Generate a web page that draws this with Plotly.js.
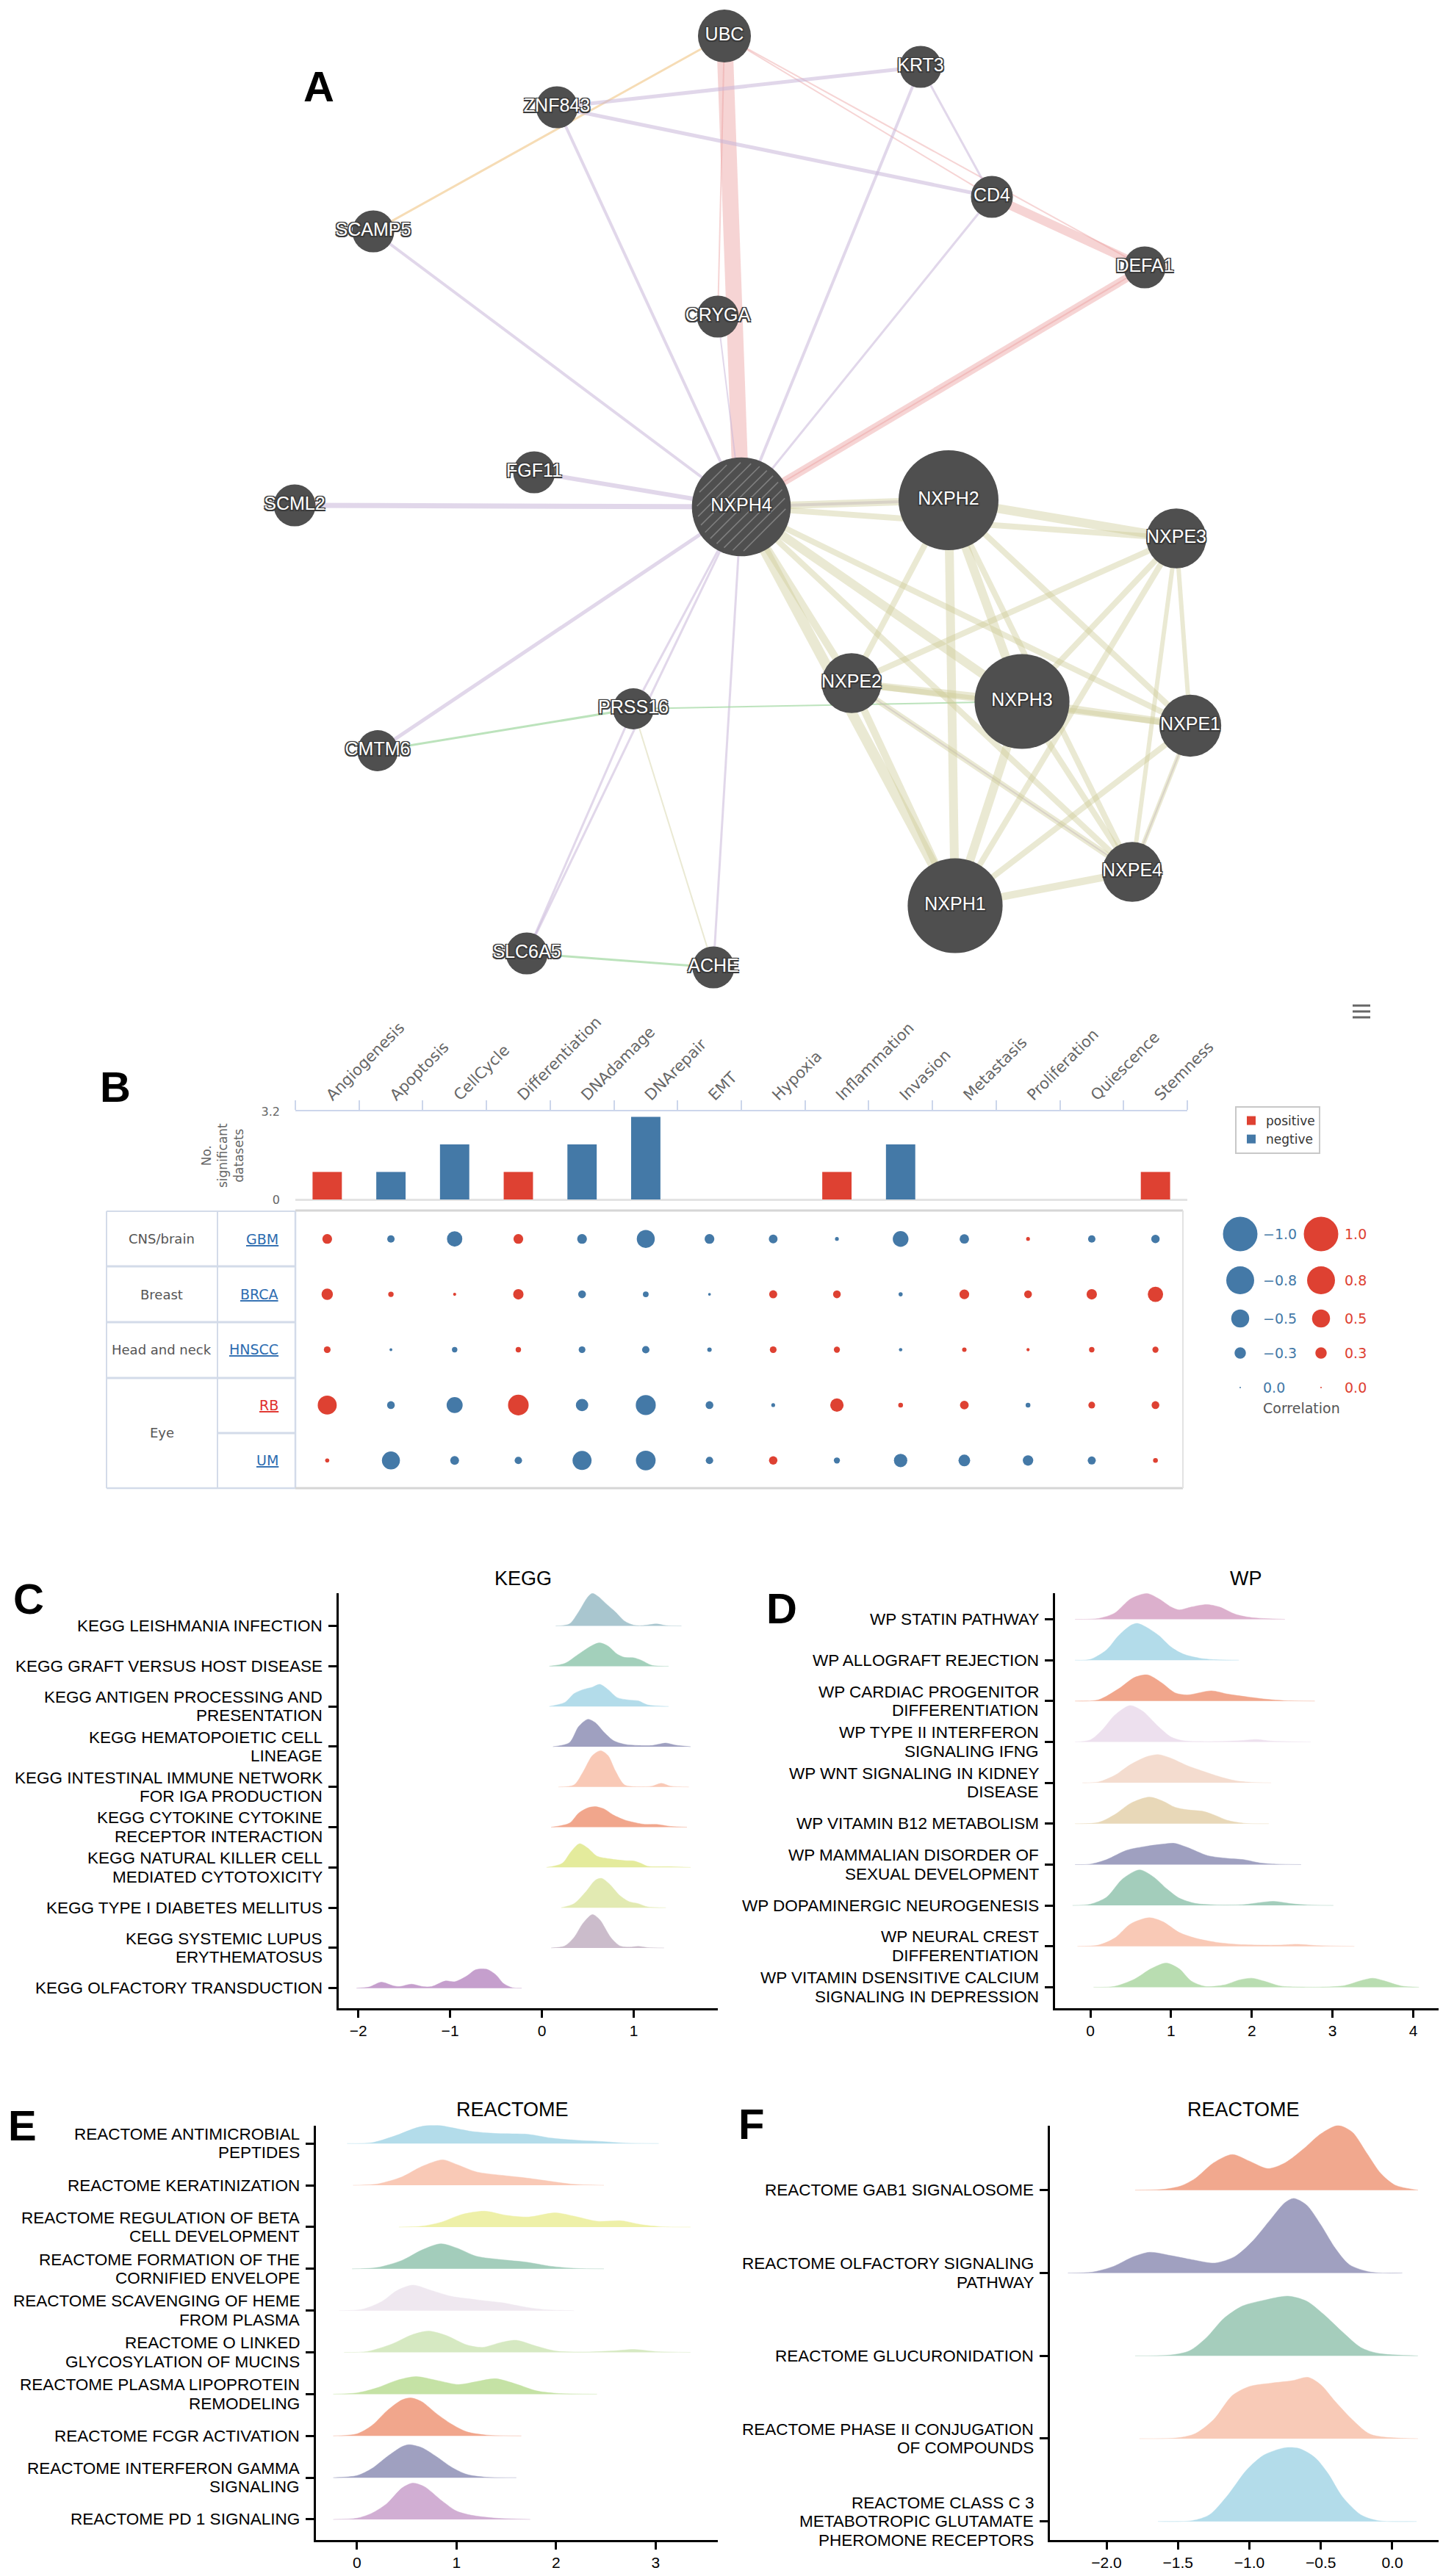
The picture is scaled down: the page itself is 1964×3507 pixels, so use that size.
<!DOCTYPE html>
<html>
<head>
<meta charset="utf-8">
<script src="https://cdn.plot.ly/plotly-3.0.1.min.js"></script>
<style>html,body{margin:0;padding:0;background:#fff}#chart{width:1964px;height:3507px}</style>
</head>
<body>
<div id="chart"></div>
<script>
// ================= DATA =================
// ---- Panel A: gene network ----
const nodeNames = ['UBC','KRT3','ZNF843','CD4','SCAMP5','DEFA1','CRYGA','FGF11','SCML2','NXPH4','NXPH2','NXPE3','NXPE2','NXPH3','NXPE1','PRSS16','CMTM6','NXPE4','NXPH1','SLC6A5','ACHE'];
const nodeX = [986,1253,758,1350,508,1558,977,727,401,1009,1291,1601,1159,1391,1620,862,514,1541,1300,717,971];
const nodeY = [49,91,146,268,315,364,431,643,688,690,681,733,930,955,988,965,1022,1187,1233,1298,1317];
const nodeScore = [0.53,0.42,0.42,0.42,0.42,0.42,0.42,0.42,0.42,0.99,1.0,0.6,0.6,0.95,0.62,0.41,0.41,0.6,0.95,0.42,0.42];
const queryGene = 'NXPH4';
const edgeFrom = ['UBC','UBC','UBC','UBC','UBC','ZNF843','ZNF843','ZNF843','KRT3','KRT3','CD4','CD4','DEFA1','DEFA1','SCAMP5','CRYGA','FGF11','SCML2','NXPH4','NXPH4','NXPH4','NXPH4','NXPH4','PRSS16','PRSS16','CMTM6','PRSS16','SLC6A5','NXPE2','NXPE1',
  'NXPH4','NXPH4','NXPH4','NXPH4','NXPH4','NXPH4','NXPH4','NXPH2','NXPH2','NXPH2','NXPH2','NXPH2','NXPH2','NXPE3','NXPE3','NXPE3','NXPE3','NXPE3','NXPE2','NXPE2','NXPE2','NXPE2','NXPH3','NXPH3','NXPH3','NXPE1','NXPE1','NXPE4'];
const edgeTo = ['NXPH4','CRYGA','CD4','DEFA1','SCAMP5','KRT3','CD4','NXPH4','NXPH4','CD4','DEFA1','NXPH4','NXPH4','NXPH4','NXPH4','NXPH4','NXPH4','NXPH4','NXPH2','CMTM6','PRSS16','SLC6A5','ACHE','SLC6A5','ACHE','PRSS16','NXPH3','ACHE','NXPE4','NXPE4',
  'NXPH2','NXPE3','NXPE2','NXPH3','NXPE1','NXPE4','NXPH1','NXPE3','NXPE2','NXPH3','NXPE1','NXPE4','NXPH1','NXPE2','NXPH3','NXPE1','NXPE4','NXPH1','NXPH3','NXPE1','NXPE4','NXPH1','NXPE1','NXPE4','NXPH1','NXPE4','NXPH1','NXPH1'];
const edgeType = ['physical','physical','physical','physical','predicted','coexp','coexp','coexp','coexp','coexp','physical','coexp','physical','physical','coexp','coexp','coexp','coexp','coexp','coexp','coexp','coexp','coexp','coexp','domain','genetic','genetic','genetic','coexp','coexp',
  'domain','domain','domain','domain','domain','domain','domain','domain','domain','domain','domain','domain','domain','domain','domain','domain','domain','domain','domain','domain','domain','domain','domain','domain','domain','domain','domain','domain'];
const edgeWeight = [22,2,2,2,3,5,5,4,4,3,12,3,11,2,4,2,6,7,4,5,3,3,3,3,2,3,2,3,2,2,
  10,8,10,12,8,8,14,12,8,12,8,8,12,8,8,6,6,8,10,8,8,10,10,8,12,6,8,10];

// ---- Panel B: CancerSEA functional states ----
const states = ['Angiogenesis','Apoptosis','CellCycle','Differentiation','DNAdamage','DNArepair','EMT','Hypoxia','Inflammation','Invasion','Metastasis','Proliferation','Quiescence','Stemness'];
const sigCount = [1,1,2,1,2,3,0,0,1,2,0,0,0,1];
const sigDirection = ['positive','negtive','negtive','positive','negtive','negtive','','','positive','negtive','','','','positive'];
const datasets = ['GBM','BRCA','HNSCC','RB','UM'];
const tissueGroups = ['CNS/brain','Breast','Head and neck','Eye'];
const tissueRows = [[0],[1],[2],[3,4]];
const corrGBM   = [0.25,-0.18,-0.42,0.25,-0.25,-0.50,-0.25,-0.22,-0.07,-0.43,-0.24,0.07,-0.18,-0.21];
const corrBRCA  = [0.30,0.12,0.05,0.27,-0.19,-0.13,-0.04,0.20,0.19,-0.08,0.25,0.19,0.27,0.42];
const corrHNSCC = [0.16,-0.04,-0.12,0.12,-0.16,-0.18,-0.09,0.16,0.14,-0.06,0.09,0.05,0.12,0.14];
const corrRB    = [0.53,-0.19,-0.44,0.58,-0.33,-0.56,-0.19,-0.07,0.36,0.10,0.22,-0.10,0.16,0.19];
const corrUM    = [0.08,-0.50,-0.22,-0.18,-0.53,-0.55,-0.18,0.21,-0.14,-0.36,-0.31,-0.27,-0.20,0.10];
const legendCorr = [1.0,0.8,0.5,0.3,0.0];

// ---- Panel C: KEGG ridges (x = value, h = density height in row units), top to bottom ----
const keggTerms = ['KEGG LEISHMANIA INFECTION','KEGG GRAFT VERSUS HOST DISEASE','KEGG ANTIGEN PROCESSING AND<br>PRESENTATION','KEGG HEMATOPOIETIC CELL<br>LINEAGE','KEGG INTESTINAL IMMUNE NETWORK<br>FOR IGA PRODUCTION','KEGG CYTOKINE CYTOKINE<br>RECEPTOR INTERACTION','KEGG NATURAL KILLER CELL<br>MEDIATED CYTOTOXICITY','KEGG TYPE I DIABETES MELLITUS','KEGG SYSTEMIC LUPUS<br>ERYTHEMATOSUS','KEGG OLFACTORY TRANSDUCTION'];
const keggX = [
 [0.15,0.3,0.4,0.5,0.55,0.62,0.7,0.8,0.9,1.0,1.1,1.25,1.35,1.52],
 [0.08,0.25,0.4,0.55,0.63,0.72,0.82,0.9,1.0,1.08,1.2,1.38],
 [0.08,0.25,0.35,0.45,0.55,0.63,0.72,0.82,0.95,1.05,1.15,1.38],
 [0.12,0.3,0.4,0.5,0.58,0.68,0.78,0.9,1.05,1.2,1.35,1.45,1.62],
 [0.18,0.35,0.45,0.55,0.64,0.72,0.8,0.9,1.05,1.2,1.3,1.4,1.6],
 [0.1,0.3,0.4,0.5,0.58,0.68,0.78,0.9,1.0,1.12,1.25,1.4,1.58],
 [0.05,0.22,0.32,0.41,0.5,0.6,0.75,0.9,1.0,1.08,1.15,1.4,1.62],
 [0.21,0.35,0.48,0.58,0.65,0.73,0.85,0.95,1.05,1.15,1.35],
 [0.1,0.25,0.35,0.45,0.55,0.63,0.75,0.85,0.95,1.05,1.15,1.33],
 [-2.02,-1.88,-1.75,-1.62,-1.55,-1.42,-1.3,-1.2,-1.05,-0.95,-0.82,-0.72,-0.6,-0.5,-0.42,-0.32,-0.22]];
const keggH = [
 [0,0.05,0.35,0.72,0.81,0.72,0.55,0.35,0.12,0.02,0.01,0.05,0.01,0],
 [0,0.07,0.3,0.52,0.58,0.5,0.3,0.22,0.21,0.15,0.02,0],
 [0,0.1,0.32,0.42,0.48,0.55,0.42,0.22,0.16,0.14,0.04,0],
 [0,0.1,0.5,0.68,0.6,0.35,0.15,0.06,0.03,0.03,0.09,0.04,0],
 [0,0.05,0.38,0.78,0.9,0.78,0.4,0.05,0.005,0.02,0.09,0.02,0],
 [0,0.1,0.35,0.48,0.51,0.45,0.3,0.18,0.12,0.07,0.07,0.02,0],
 [0,0.1,0.4,0.59,0.48,0.28,0.21,0.17,0.16,0.1,0.03,0.02,0],
 [0,0.1,0.4,0.68,0.73,0.6,0.3,0.15,0.1,0.02,0],
 [0,0.05,0.26,0.62,0.83,0.7,0.26,0.05,0.02,0.04,0.01,0],
 [0,0.03,0.15,0.06,0.04,0.1,0.04,0.04,0.18,0.16,0.3,0.46,0.47,0.33,0.12,0.01,0]];
const keggColors = ['#a9c6cf','#a3d0bb','#b3dcea','#9fa0c0','#f9c9b6','#f1a68c','#e4eb9c','#e2eab2','#cbbccb','#c59fcd'];

// ---- Panel D: WP ridges ----
const wpTerms = ['WP STATIN PATHWAY','WP ALLOGRAFT REJECTION','WP CARDIAC PROGENITOR<br>DIFFERENTIATION','WP TYPE II INTERFERON<br>SIGNALING IFNG','WP WNT SIGNALING IN KIDNEY<br>DISEASE','WP VITAMIN B12 METABOLISM','WP MAMMALIAN DISORDER OF<br>SEXUAL DEVELOPMENT','WP DOPAMINERGIC NEUROGENESIS','WP NEURAL CREST<br>DIFFERENTIATION','WP VITAMIN DSENSITIVE CALCIUM<br>SIGNALING IN DEPRESSION'];
const wpX = [
 [-0.19,0.1,0.3,0.5,0.7,0.85,1.0,1.1,1.25,1.44,1.6,1.8,2.0,2.41],
 [-0.19,0.0,0.2,0.35,0.5,0.58,0.7,0.85,1.0,1.15,1.35,1.55,1.84],
 [-0.19,0.1,0.35,0.55,0.71,0.88,1.05,1.2,1.5,1.7,1.95,2.2,2.4,2.78],
 [-0.19,0.0,0.15,0.3,0.49,0.65,0.84,1.0,1.15,1.5,1.85,2.05,2.25,2.73],
 [-0.1,0.1,0.3,0.5,0.7,0.84,1.0,1.2,1.4,1.6,1.8,2.0,2.24],
 [-0.19,0.1,0.3,0.5,0.73,0.9,1.05,1.2,1.4,1.55,1.7,1.9,2.21],
 [-0.19,0.0,0.2,0.45,0.7,0.9,1.04,1.2,1.45,1.7,1.9,2.1,2.3,2.61],
 [-0.22,0.0,0.2,0.4,0.61,0.78,0.95,1.1,1.3,1.6,1.9,2.1,2.27,2.5,2.7,3.01],
 [-0.16,0.1,0.3,0.5,0.73,0.9,1.1,1.3,1.55,1.8,2.1,2.35,2.55,2.8,3.27],
 [0.04,0.3,0.55,0.75,0.94,1.1,1.25,1.42,1.65,1.85,2.0,2.15,2.35,2.6,2.9,3.15,3.35,3.5,3.65,3.85,4.07]];
const wpH = [
 [0,0.02,0.15,0.5,0.63,0.5,0.3,0.23,0.3,0.36,0.3,0.12,0.04,0],
 [0,0.02,0.25,0.6,0.85,0.9,0.8,0.6,0.32,0.15,0.05,0.01,0],
 [0,0.03,0.3,0.58,0.64,0.45,0.2,0.15,0.25,0.17,0.1,0.04,0.01,0],
 [0,0.05,0.3,0.65,0.89,0.75,0.38,0.12,0.03,0.01,0.03,0.06,0.02,0],
 [0,0.02,0.18,0.45,0.64,0.69,0.6,0.42,0.28,0.15,0.05,0.01,0],
 [0,0.03,0.22,0.5,0.65,0.55,0.4,0.34,0.3,0.2,0.08,0.01,0],
 [0,0.01,0.12,0.35,0.45,0.5,0.52,0.42,0.22,0.15,0.12,0.04,0.01,0],
 [0,0.03,0.2,0.65,0.87,0.7,0.4,0.18,0.05,0.01,0.02,0.07,0.1,0.04,0.01,0],
 [0,0.03,0.2,0.55,0.7,0.6,0.34,0.2,0.1,0.05,0.03,0.03,0.05,0.02,0],
 [0,0.02,0.2,0.45,0.59,0.45,0.15,0.02,0.05,0.18,0.22,0.15,0.03,0.005,0.005,0.04,0.16,0.22,0.15,0.03,0]];
const wpColors = ['#dcb0cd','#b3dcea','#f1a68c','#ede0ee','#f4dccf','#e8d8b8','#9fa0c0','#a3cdbb','#f9c9b6','#b9ddb1'];

// ---- Panel E: REACTOME (positive) ridges ----
const reacPosTerms = ['REACTOME ANTIMICROBIAL<br>PEPTIDES','REACTOME KERATINIZATION','REACTOME REGULATION OF BETA<br>CELL DEVELOPMENT','REACTOME FORMATION OF THE<br>CORNIFIED ENVELOPE','REACTOME SCAVENGING OF HEME<br>FROM PLASMA','REACTOME O LINKED<br>GLYCOSYLATION OF MUCINS','REACTOME PLASMA LIPOPROTEIN<br>REMODELING','REACTOME FCGR ACTIVATION','REACTOME INTERFERON GAMMA<br>SIGNALING','REACTOME PD 1 SIGNALING'];
const reacPosX = [
 [-0.1,0.15,0.4,0.6,0.77,0.95,1.15,1.4,1.72,1.95,2.2,2.45,2.7,3.03],
 [-0.04,0.2,0.45,0.65,0.86,1.0,1.2,1.45,1.65,1.9,2.15,2.48],
 [0.42,0.65,0.85,1.05,1.28,1.5,1.72,1.99,2.2,2.41,2.66,2.85,3.05,3.35],
 [-0.05,0.2,0.45,0.65,0.84,1.0,1.2,1.45,1.7,1.95,2.2,2.48],
 [-0.18,0.05,0.25,0.4,0.56,0.75,0.95,1.2,1.45,1.7,1.9,2.18],
 [-0.13,0.1,0.35,0.55,0.72,0.9,1.1,1.26,1.45,1.6,1.8,2.0,2.3,2.6,2.78,3.0,3.35],
 [-0.24,0.0,0.2,0.4,0.59,0.8,1.02,1.2,1.39,1.6,1.8,2.0,2.41],
 [-0.24,0.0,0.15,0.3,0.45,0.54,0.65,0.8,0.95,1.1,1.3,1.65],
 [-0.24,0.0,0.15,0.3,0.45,0.52,0.65,0.8,0.95,1.1,1.3,1.6],
 [-0.24,0.0,0.15,0.3,0.45,0.56,0.68,0.85,1.0,1.15,1.4,1.74]];
const reacPosH = [
 [0,0.02,0.2,0.38,0.45,0.38,0.29,0.24,0.22,0.13,0.08,0.05,0.01,0],
 [0,0.03,0.2,0.45,0.61,0.5,0.32,0.24,0.19,0.11,0.03,0],
 [0,0.02,0.12,0.3,0.38,0.28,0.24,0.34,0.25,0.14,0.15,0.06,0.01,0],
 [0,0.03,0.2,0.45,0.6,0.5,0.3,0.22,0.16,0.06,0.01,0],
 [0,0.03,0.22,0.48,0.61,0.48,0.34,0.26,0.19,0.08,0.02,0],
 [0,0.02,0.2,0.42,0.51,0.4,0.18,0.12,0.24,0.29,0.15,0.03,0.01,0.04,0.07,0.02,0],
 [0,0.03,0.15,0.33,0.42,0.33,0.23,0.3,0.37,0.24,0.08,0.02,0],
 [0,0.05,0.25,0.6,0.86,0.91,0.82,0.53,0.28,0.1,0.02,0],
 [0,0.05,0.22,0.5,0.74,0.79,0.72,0.5,0.25,0.08,0.01,0],
 [0,0.03,0.15,0.38,0.75,0.87,0.78,0.45,0.2,0.1,0.03,0]];
const reacPosColors = ['#b3dcea','#f9c9b6','#eef0a8','#a3cdbb','#efe8f0','#d6e9c2','#c5e2a5','#f1a68c','#9fa0c0','#d1aed3'];

// ---- Panel F: REACTOME (negative) ridges ----
const reacNegTerms = ['REACTOME GAB1 SIGNALOSOME','REACTOME OLFACTORY SIGNALING<br>PATHWAY','REACTOME GLUCURONIDATION','REACTOME PHASE II CONJUGATION<br>OF COMPOUNDS','REACTOME CLASS C 3<br>METABOTROPIC GLUTAMATE<br>PHEROMONE RECEPTORS'];
const reacNegX = [
 [-1.8,-1.6,-1.48,-1.38,-1.25,-1.12,-1.0,-0.87,-0.75,-0.62,-0.5,-0.38,-0.28,-0.18,-0.08,0.02,0.18],
 [-2.27,-2.1,-1.95,-1.82,-1.7,-1.55,-1.4,-1.24,-1.1,-0.98,-0.85,-0.75,-0.69,-0.6,-0.5,-0.4,-0.3,-0.15,0.07],
 [-1.8,-1.55,-1.42,-1.3,-1.18,-1.05,-0.9,-0.73,-0.6,-0.48,-0.35,-0.22,-0.1,0.18],
 [-1.77,-1.5,-1.38,-1.25,-1.12,-1.0,-0.85,-0.7,-0.59,-0.5,-0.4,-0.28,-0.15,0.18],
 [-1.64,-1.4,-1.28,-1.15,-1.02,-0.9,-0.75,-0.65,-0.54,-0.45,-0.35,-0.22,-0.1,0.17]];
const reacNegH = [
 [0,0.01,0.05,0.14,0.33,0.43,0.35,0.26,0.33,0.5,0.68,0.78,0.7,0.45,0.2,0.06,0],
 [0,0.01,0.08,0.19,0.25,0.21,0.16,0.12,0.2,0.38,0.65,0.85,0.9,0.82,0.58,0.3,0.1,0.01,0],
 [0,0.01,0.06,0.22,0.45,0.6,0.67,0.72,0.66,0.5,0.29,0.1,0.03,0],
 [0,0.01,0.06,0.23,0.52,0.63,0.67,0.7,0.74,0.65,0.45,0.23,0.05,0],
 [0,0.01,0.08,0.32,0.62,0.8,0.89,0.88,0.77,0.58,0.3,0.08,0.01,0]];
const reacNegColors = ['#f1a88e','#a0a0c0','#a5cdbc','#f8cab7','#b3dcea'];

// ================= BUILD =================
const W = 1964, H = 3507;
const PX = v => v / W;
const PY = v => 1 - v / H;
const ARIAL = 'Liberation Sans, Arial, Helvetica, sans-serif';
const HC = 'DejaVu Sans, Verdana, sans-serif';
const RED = '#de4132', BLUE = '#4479a7';
const NODE_SCALE = 136;
const traces = [];
const shapes = [];
const annotations = [];

// ---- Panel A ----
const edgeColors = {
  coexp: 'rgba(200,182,216,0.55)',
  physical: 'rgba(236,160,160,0.45)',
  domain: 'rgba(205,203,150,0.42)',
  predicted: 'rgba(242,205,150,0.7)',
  genetic: 'rgba(160,215,160,0.7)'
};
const idx = n => nodeNames.indexOf(n);
for (let i = 0; i < edgeFrom.length; i++) {
  const a = idx(edgeFrom[i]), b = idx(edgeTo[i]);
  traces.push({
    type: 'scatter', mode: 'lines', xaxis: 'x', yaxis: 'y',
    x: [nodeX[a], nodeX[b]], y: [nodeY[a], nodeY[b]],
    line: { color: edgeColors[edgeType[i]], width: edgeWeight[i] },
    hoverinfo: 'skip', showlegend: false
  });
}
traces.push({
  type: 'scatter', mode: 'markers', xaxis: 'x', yaxis: 'y',
  x: nodeX, y: nodeY,
  marker: { size: nodeScore.map(s => NODE_SCALE * s), color: '#4f4f4f', line: { width: 0 }, opacity: 1 },
  cliponaxis: false, hoverinfo: 'skip', showlegend: false
});
// hatch on the query gene node
(function () {
  const q = idx(queryGene);
  const cx = nodeX[q], cy = nodeY[q], r = NODE_SCALE * nodeScore[q] / 2 - 7;
  const hx = [], hy = [];
  const s = Math.SQRT1_2;
  for (let d = -r + 6; d <= r - 6; d += 11) {
    const h = Math.sqrt(r * r - d * d);
    hx.push(cx + d * s - h * s, cx + d * s + h * s, null);
    hy.push(cy + d * s + h * s, cy + d * s - h * s, null);
  }
  traces.push({ type: 'scatter', mode: 'lines', xaxis: 'x', yaxis: 'y', x: hx, y: hy,
    line: { color: 'rgba(135,135,135,0.85)', width: 1.6 }, hoverinfo: 'skip', showlegend: false });
})();
traces.push({
  type: 'scatter', mode: 'text', xaxis: 'x', yaxis: 'y',
  x: nodeX, y: nodeY, text: nodeNames, textposition: 'middle center',
  textfont: { family: ARIAL, size: 25, color: '#ffffff',
    shadow: '-1.5px -1.5px 0 #3a3a3a, 1.5px -1.5px 0 #3a3a3a, -1.5px 1.5px 0 #3a3a3a, 1.5px 1.5px 0 #3a3a3a, 0 0 3px #3a3a3a' },
  cliponaxis: false, hoverinfo: 'text', showlegend: false
});

// ---- Panel B: bars ----
['positive', 'negtive'].forEach(dir => {
  traces.push({
    type: 'bar', xaxis: 'x2', yaxis: 'y2', name: dir,
    x: states, y: sigCount.map((c, i) => sigDirection[i] === dir ? c : null),
    width: 0.46, marker: { color: dir === 'positive' ? RED : BLUE, line: { width: 0 } },
    showlegend: true, hoverinfo: 'x+y'
  });
});
// ---- Panel B: bubbles ----
const corrRows = [corrGBM, corrBRCA, corrHNSCC, corrRB, corrUM];
const bubX = [], bubY = [], bubR = [];
corrRows.forEach((row, r) => row.forEach((v, c) => { bubX.push(states[c]); bubY.push(r); bubR.push(v); }));
traces.push({
  type: 'scatter', mode: 'markers', xaxis: 'x3', yaxis: 'y3',
  x: bubX, y: bubY,
  marker: { size: bubR.map(v => 2 + 45 * Math.abs(v)), sizemode: 'diameter',
    color: bubR.map(v => v >= 0 ? RED : BLUE), line: { width: 0 }, opacity: 1 },
  text: bubR.map(v => v.toFixed(2)), hoverinfo: 'text', showlegend: false, cliponaxis: false
});
// ---- bubble legend ----
const legRowY = [1680, 1743, 1795, 1842, 1889];
const legColX = [1688, 1798];
[-1, 1].forEach((sgn, k) => {
  traces.push({
    type: 'scatter', mode: 'markers', xaxis: 'x4', yaxis: 'y4',
    x: legendCorr.map(() => legColX[k]), y: legRowY,
    marker: { size: legendCorr.map(v => 2 + 45 * v), color: sgn < 0 ? BLUE : RED, line: { width: 0 }, opacity: 1 },
    hoverinfo: 'skip', showlegend: false, cliponaxis: false
  });
  legendCorr.forEach((v, i) => {
    const val = sgn * v;
    annotations.push({
      xref: 'x4', yref: 'y4', x: legColX[k] + (k === 0 ? 29 : 30), y: legRowY[i],
      xanchor: 'left', yanchor: 'middle', showarrow: false,
      text: (val < 0 ? '\u2212' : '') + Math.abs(val).toFixed(1),
      font: { family: HC, size: 19, color: sgn < 0 ? BLUE : RED }
    });
  });
});
annotations.push({ xref: 'x4', yref: 'y4', x: 1771, y: 1917, xanchor: 'center', yanchor: 'middle', showarrow: false,
  text: 'Correlation', font: { family: HC, size: 19, color: '#555' } });

// ---- table labels ----
tissueGroups.forEach((g, i) => {
  const rows = tissueRows[i];
  annotations.push({ xref: 'paper', yref: 'y3', x: PX(220), y: rows.reduce((a, b) => a + b, 0) / rows.length,
    xanchor: 'center', yanchor: 'middle', showarrow: false, text: g,
    font: { family: HC, size: 18, color: '#555' } });
});
datasets.forEach((d, i) => {
  annotations.push({ xref: 'paper', yref: 'y3', x: PX(381), y: i, xanchor: 'right', yanchor: 'middle', showarrow: false,
    text: d, font: { family: HC, size: 19, color: d === 'RB' ? '#e0302a' : '#2d6cb0', lineposition: 'under' } });
});
annotations.push({ xref: 'paper', yref: 'paper', x: PX(303), y: PY(1573), xanchor: 'center', yanchor: 'middle',
  showarrow: false, textangle: -90, text: 'No.<br>significant<br>datasets',
  font: { family: HC, size: 17, color: '#666' } });

// table & frame shapes
const tblC = '#d3dbe9';
const L = (x0, y0, x1, y1, color, width) => shapes.push({ type: 'line', xref: 'paper', yref: 'paper',
  x0: PX(x0), y0: PY(y0), x1: PX(x1), y1: PY(y1), line: { color: color, width: width } });
L(145, 1649, 402, 1649, tblC, 2);
L(145, 1649, 145, 2026, tblC, 2);
L(296, 1649, 296, 2026, tblC, 2);
L(402, 1649, 402, 2026, tblC, 2.5);
L(145, 1724, 402, 1724, tblC, 3);
L(145, 1800, 402, 1800, tblC, 3);
L(145, 1876, 402, 1876, tblC, 3);
L(296, 1951, 402, 1951, tblC, 3);
L(145, 2026, 402, 2026, tblC, 2.5);
L(402, 1648, 1610, 1648, '#d6d6d6', 3);
L(402, 2026, 1610, 2026, '#d6d6d6', 3);
L(1610, 1648, 1610, 2026, '#e2e2e2', 2);
// export-menu icon
[1369, 1377, 1385].forEach(y => L(1841, y, 1865, y, '#666', 3));

// ---- Ridge panels ----
function ridges(ax, terms, X, Hh, colors, axisLeftPx) {
  const n = terms.length;
  terms.forEach((t, i) => {
    const row = n - 1 - i;
    const xs = X[i], hs = Hh[i];
    traces.push({ type: 'scatter', mode: 'lines', xaxis: 'x' + ax, yaxis: 'y' + ax,
      x: [xs[0], xs[xs.length - 1]], y: [row, row], line: { width: 0, color: colors[i] },
      hoverinfo: 'skip', showlegend: false });
    traces.push({ type: 'scatter', mode: 'lines', xaxis: 'x' + ax, yaxis: 'y' + ax,
      x: xs, y: hs.map(h => row + h), fill: 'tonexty', fillcolor: colors[i],
      line: { shape: 'spline', smoothing: 0.8, width: 0.5, color: colors[i] },
      hoverinfo: 'skip', showlegend: false });
    // category label (tight line spacing like the original)
    const lines = t.split('<br>');
    const k = lines.length;
    lines.forEach((ln, j) => {
      annotations.push({ xref: 'paper', yref: 'y' + ax, x: PX(axisLeftPx - 20), y: row,
        yshift: ((k - 1) / 2 - j) * 25.5, xanchor: 'right', yanchor: 'middle', showarrow: false,
        text: ln, font: { family: ARIAL, size: 22.5, color: '#000' } });
    });
  });
}
ridges(5, keggTerms, keggX, keggH, keggColors, 461);
ridges(6, wpTerms, wpX, wpH, wpColors, 1436);
ridges(7, reacPosTerms, reacPosX, reacPosH, reacPosColors, 430);
ridges(8, reacNegTerms, reacNegX, reacNegH, reacNegColors, 1429);

function ridgeAxes(terms, xdom, ydom, xr, yr, xticks, xfmt) {
  const n = terms.length;
  const xa = { domain: [PX(xdom[0]), PX(xdom[1])], range: xr, showline: true, linecolor: '#000', linewidth: 2.5,
    ticks: 'outside', ticklen: 10, tickwidth: 2.5, tickcolor: '#000', tickvals: xticks, tickformat: xfmt,
    showgrid: false, zeroline: false, tickfont: { family: ARIAL, size: 21, color: '#000' }, fixedrange: true };
  const ya = { domain: [PY(ydom[1]), PY(ydom[0])], range: yr, showline: true, linecolor: '#000', linewidth: 2.5,
    ticks: 'outside', ticklen: 11, tickwidth: 2.5, tickcolor: '#000',
    tickvals: terms.map((t, i) => n - 1 - i), showticklabels: false,
    showgrid: false, zeroline: false, fixedrange: true };
  return [xa, ya];
}
const [x5, y5] = ridgeAxes(keggTerms, [461, 977], [2169, 2734], [-2.213, 1.916], [-0.498, 9.814], [-2, -1, 0, 1], '');
const [x6, y6] = ridgeAxes(wpTerms, [1436, 1958], [2168.5, 2734], [-0.437, 4.313], [-0.514, 9.647], [0, 1, 2, 3, 4], '');
const [x7, y7] = ridgeAxes(reacPosTerms, [430, 977], [2893.6, 3457.8], [-0.413, 3.624], [-0.489, 9.433], [0, 1, 2, 3], '');
const [x8, y8] = ridgeAxes(reacNegTerms, [1429, 1958], [2893.6, 3457.8], [-2.396, 0.324], [-0.222, 4.781], [-2, -1.5, -1, -0.5, 0], '.1f');
x5.anchor = 'y5'; y5.anchor = 'x5';
x6.anchor = 'y6'; y6.anchor = 'x6';
x7.anchor = 'y7'; y7.anchor = 'x7';
x8.anchor = 'y8'; y8.anchor = 'x8';

// panel titles
[['KEGG', 712, 2149], ['WP', 1696, 2149], ['REACTOME', 697, 2872], ['REACTOME', 1692, 2872]].forEach(t => {
  annotations.push({ xref: 'paper', yref: 'paper', x: PX(t[1]), y: PY(t[2]), xanchor: 'center', yanchor: 'middle',
    showarrow: false, text: t[0], font: { family: ARIAL, size: 27, color: '#000' } });
});
// panel letters
[['A', 434, 117], ['B', 157, 1479], ['C', 39, 2176], ['D', 1064, 2189], ['E', 30, 2893], ['F', 1023, 2891]].forEach(t => {
  annotations.push({ xref: 'paper', yref: 'paper', x: PX(t[1]), y: PY(t[2]), xanchor: 'center', yanchor: 'middle',
    showarrow: false, text: '<b>' + t[0] + '</b>', font: { family: ARIAL, size: 58, color: '#000' } });
});

const layout = {
  width: W, height: H, margin: { l: 0, r: 0, t: 0, b: 0, pad: 0 },
  paper_bgcolor: '#ffffff', plot_bgcolor: 'rgba(0,0,0,0)',
  showlegend: true, barmode: 'overlay', hovermode: 'closest',
  legend: { x: PX(1681), y: PY(1506), xanchor: 'left', yanchor: 'top', bgcolor: '#ffffff',
    bordercolor: '#c8c8c8', borderwidth: 2, font: { family: HC, size: 17, color: '#333' },
    traceorder: 'normal', tracegroupgap: 4, itemwidth: 30 },
  xaxis: { domain: [0, 1], range: [0, 1964], visible: false, fixedrange: true, anchor: 'y' },
  yaxis: { domain: [PY(1360), 1], range: [1360, 0], visible: false, fixedrange: true, anchor: 'x' },
  xaxis2: { domain: [PX(402), PX(1616)], anchor: 'y2', type: 'category', categoryorder: 'array', categoryarray: states,
    side: 'top', range: [-0.5, 13.5], showline: true, linecolor: '#ccd6eb', linewidth: 2,
    ticks: 'outside', tickson: 'boundaries', ticklen: 13, tickwidth: 1.5, tickcolor: '#ccd6eb',
    tickangle: -45, tickfont: { family: HC, size: 21, color: '#666' }, showgrid: false, zeroline: false, fixedrange: true },
  yaxis2: { domain: [PY(1633), PY(1513)], anchor: 'x2', range: [0, 3.2], tickvals: [0, 3.2], ticktext: ['0', '3.2'],
    showgrid: false, zeroline: true, zerolinecolor: '#e3e3e3', zerolinewidth: 3, showline: false, ticks: '',
    ticklabelstandoff: 20, tickfont: { family: HC, size: 16, color: '#666' }, fixedrange: true },
  xaxis3: { domain: [PX(402), PX(1616)], anchor: 'y3', type: 'category', categoryorder: 'array', categoryarray: states,
    range: [-0.5, 13.5], visible: false, fixedrange: true },
  yaxis3: { domain: [PY(2026), PY(1649)], anchor: 'x3', range: [4.5, -0.5], visible: false, fixedrange: true },
  xaxis4: { domain: [PX(1640), PX(1900)], anchor: 'y4', range: [1640, 1900], visible: false, fixedrange: true },
  yaxis4: { domain: [PY(1960), PY(1640)], anchor: 'x4', range: [1960, 1640], visible: false, fixedrange: true },
  xaxis5: x5, yaxis5: y5, xaxis6: x6, yaxis6: y6, xaxis7: x7, yaxis7: y7, xaxis8: x8, yaxis8: y8,
  shapes: shapes, annotations: annotations
};

Plotly.newPlot('chart', traces, layout, { displayModeBar: false, staticPlot: false, responsive: false });
</script>
</body>
</html>
